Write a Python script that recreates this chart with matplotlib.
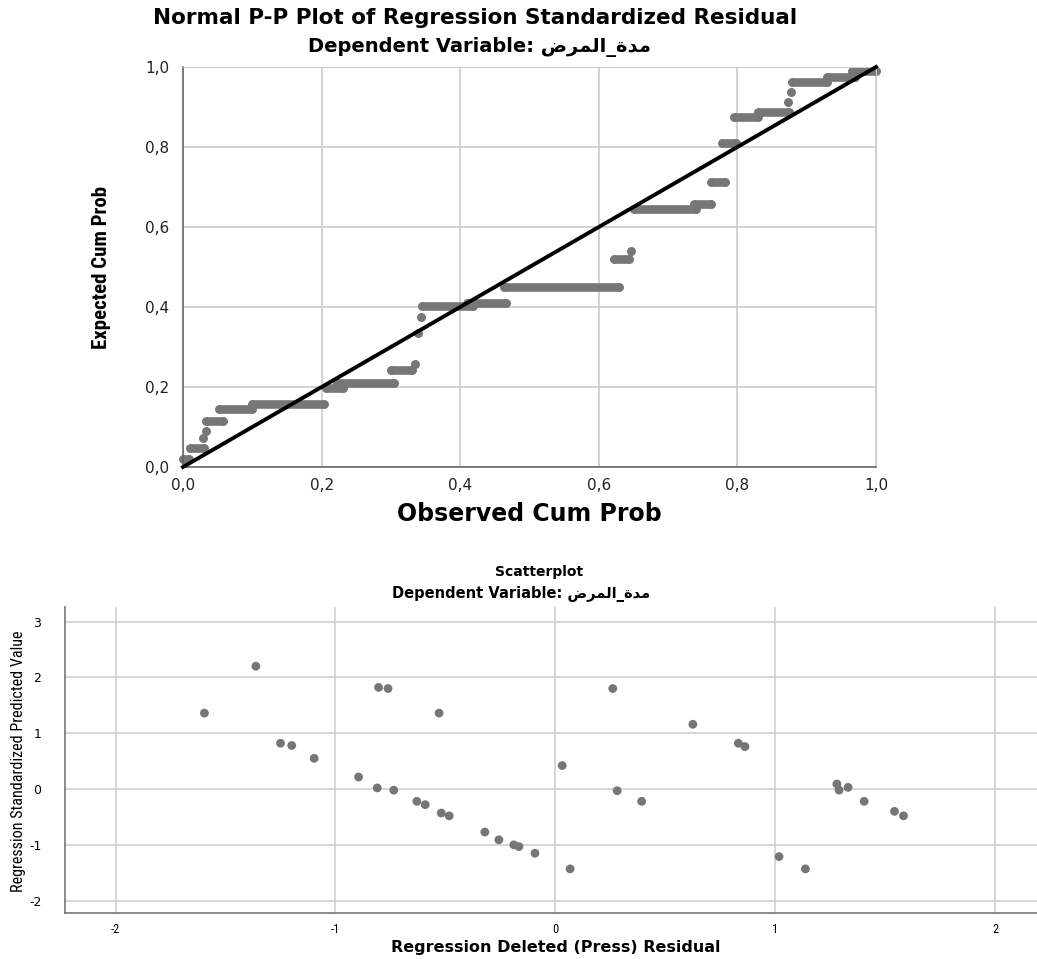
import matplotlib
matplotlib.use("Agg")
import matplotlib.pyplot as plt
from matplotlib import font_manager

# Arabic variable name, pre-shaped in visual order (matplotlib has no bidi)
dep_var = "\uFEBD\uFEAE\uFEE4\uFEDF\uFE8D_\uFE93\uFEAA\uFEE3"

# --- Normal P-P plot: runs of tied residuals (observed start, observed end, expected)
pp_obs_start = [0.000, 0.010, 0.029, 0.033, 0.033, 0.052, 0.100, 0.206, 0.222, 0.300,
                0.335, 0.339, 0.343, 0.345, 0.410, 0.463, 0.622, 0.646, 0.651, 0.737,
                0.762, 0.778, 0.795, 0.830, 0.873, 0.877, 0.879, 0.930, 0.965]
pp_obs_end = [0.008, 0.030, 0.029, 0.033, 0.058, 0.100, 0.203, 0.231, 0.305, 0.330,
              0.335, 0.339, 0.343, 0.418, 0.466, 0.629, 0.644, 0.646, 0.740, 0.762,
              0.782, 0.798, 0.830, 0.875, 0.873, 0.877, 0.930, 0.970, 1.000]
pp_expected = [0.020, 0.048, 0.072, 0.090, 0.115, 0.146, 0.157, 0.197, 0.210, 0.243,
               0.258, 0.335, 0.375, 0.402, 0.410, 0.450, 0.520, 0.540, 0.645, 0.658,
               0.713, 0.810, 0.876, 0.888, 0.913, 0.938, 0.962, 0.975, 0.990]
pp_ticks = [0.0, 0.2, 0.4, 0.6, 0.8, 1.0]
pp_tick_labels = ["0,0", "0,2", "0,4", "0,6", "0,8", "1,0"]

# --- Scatterplot: deleted (press) residual vs standardized predicted value
press_resid = [-1.596, -1.362, -1.250, -1.199, -1.097, -0.895, -0.810, -0.735, -0.804, -0.761,
               -0.529, -0.630, -0.592, -0.519, -0.483, -0.321, -0.257, -0.189, -0.166, -0.093,
               0.031, 0.067, 0.261, 0.281, 0.392, 0.625, 0.832, 0.862, 1.017, 1.137,
               1.280, 1.290, 1.331, 1.404, 1.542, 1.583]
std_pred = [1.36, 2.20, 0.82, 0.78, 0.55, 0.215, 0.02, -0.02, 1.82, 1.80,
            1.36, -0.22, -0.28, -0.43, -0.48, -0.77, -0.91, -1.00, -1.03, -1.15,
            0.42, -1.43, 1.80, -0.03, -0.22, 1.16, 0.82, 0.76, -1.21, -1.43,
            0.09, -0.02, 0.03, -0.22, -0.40, -0.48]
sc_xticks = [-2, -1, 0, 1, 2]
sc_yticks = [-2, -1, 0, 1, 2, 3]

mark_col = "#767676"
grid_col = "#cfcfcf"
wide = ["DejaVu Sans"]

# pick a narrow face if one is installed
installed = {f.name for f in font_manager.fontManager.ttflist}
narrow = "DejaVu Sans"
for cand in ["Liberation Sans Narrow", "Arial Narrow", "Roboto Condensed",
             "Open Sans Condensed", "Noto Sans Condensed"]:
    if cand in installed:
        narrow = cand
        break


def fit_length(txt, target_px, renderer):
    # scale font so the text run spans about target_px
    bb = txt.get_window_extent(renderer)
    span = max(bb.width, bb.height)
    txt.set_fontsize(txt.get_fontsize() * target_px / span)


fig = plt.figure(figsize=(10.37, 9.59), dpi=100)

# ---------------- top: P-P plot
ax1 = fig.add_axes([183 / 1037, 1 - 467 / 959, 693 / 1037, 400 / 959])
ax1.set_xlim(0, 1)
ax1.set_ylim(0, 1)
ax1.set_axisbelow(True)
ax1.grid(True, color=grid_col, lw=1.3)
for x0, x1, y in zip(pp_obs_start, pp_obs_end, pp_expected):
    ax1.plot([x0, x1], [y, y], color=mark_col, lw=6.2, solid_capstyle="round",
             marker="o", ms=6.2, mew=0, clip_on=False, zorder=2)
ax1.plot([0, 1], [0, 1], color="black", lw=2.8, zorder=3, clip_on=False)
ax1.set_xticks(pp_ticks)
ax1.set_xticklabels(pp_tick_labels, family=wide, fontsize=11, color="#222222")
ax1.set_yticks(pp_ticks)
ax1.set_yticklabels(pp_tick_labels, family=wide, fontsize=11, color="#222222")
ax1.tick_params(length=0)
ax1.tick_params(axis="x", pad=8)
ax1.tick_params(axis="y", pad=10)
for s in ["top", "right"]:
    ax1.spines[s].set_color(grid_col)
for s in ["left", "bottom"]:
    ax1.spines[s].set_color("#666666")
    ax1.spines[s].set_linewidth(1.2)
ax1.set_xlabel("Observed Cum Prob", family=wide, fontsize=17, fontweight="bold",
               va="center")
ax1.xaxis.set_label_coords(0.5, -0.1175)
ax1.set_ylabel("Expected Cum Prob", family=narrow, stretch="condensed", fontsize=16,
               fontweight="bold", va="center")
ax1.yaxis.set_label_coords(-0.117, 0.5)

fig.text(475 / 1037, 1 - 18 / 959, "Normal P-P Plot of Regression Standardized Residual",
         ha="center", va="center", family=wide, fontsize=15.5, fontweight="bold")
fig.text(479 / 1037, 1 - 47 / 959, "Dependent Variable: " + dep_var,
         ha="center", va="center", family=wide, fontsize=14, fontweight="bold")

# ---------------- bottom: scatterplot
ax2 = fig.add_axes([65 / 1037, 1 - 913 / 959, 972 / 1037, 306 / 959])
ax2.set_xlim(-2.23, 2.19)
ax2.set_ylim(-2.22, 3.26)
ax2.set_axisbelow(True)
ax2.grid(True, color=grid_col, lw=1.2)
ax2.scatter(press_resid, std_pred, s=40, color=mark_col, edgecolors="none", zorder=2)
ax2.set_xticks(sc_xticks)
ax2.set_xticklabels([str(v) for v in sc_xticks], family=narrow, stretch="condensed",
                    fontsize=9)
ax2.set_yticks(sc_yticks)
ax2.set_yticklabels([str(v) for v in sc_yticks], family=wide, fontsize=9)
ax2.tick_params(length=0)
ax2.tick_params(axis="x", pad=7)
ax2.tick_params(axis="y", pad=17)
for s in ["top", "right"]:
    ax2.spines[s].set_visible(False)
for s in ["left", "bottom"]:
    ax2.spines[s].set_color("#777777")
    ax2.spines[s].set_linewidth(1.2)
ax2.set_xlabel("Regression Deleted (Press) Residual", family=wide, fontsize=11.5,
               fontweight="bold", va="center")
ax2.xaxis.set_label_coords(0.505, -0.114)
ax2.set_ylabel("Regression Standardized Predicted Value", family=narrow,
               stretch="condensed", fontsize=12, va="center")
ax2.yaxis.set_label_coords(-0.048, 0.497)

fig.text(539 / 1037, 1 - 572 / 959, "Scatterplot", ha="center", va="center",
         family=wide, fontsize=10, fontweight="bold")
fig.text(521 / 1037, 1 - 594 / 959, "Dependent Variable: " + dep_var,
         ha="center", va="center", family=wide, fontsize=10.5, fontweight="bold")

renderer = fig.canvas.get_renderer()
fit_length(ax1.yaxis.label, 163, renderer)
fit_length(ax2.yaxis.label, 262, renderer)

fig.savefig("out.png", dpi=100)
